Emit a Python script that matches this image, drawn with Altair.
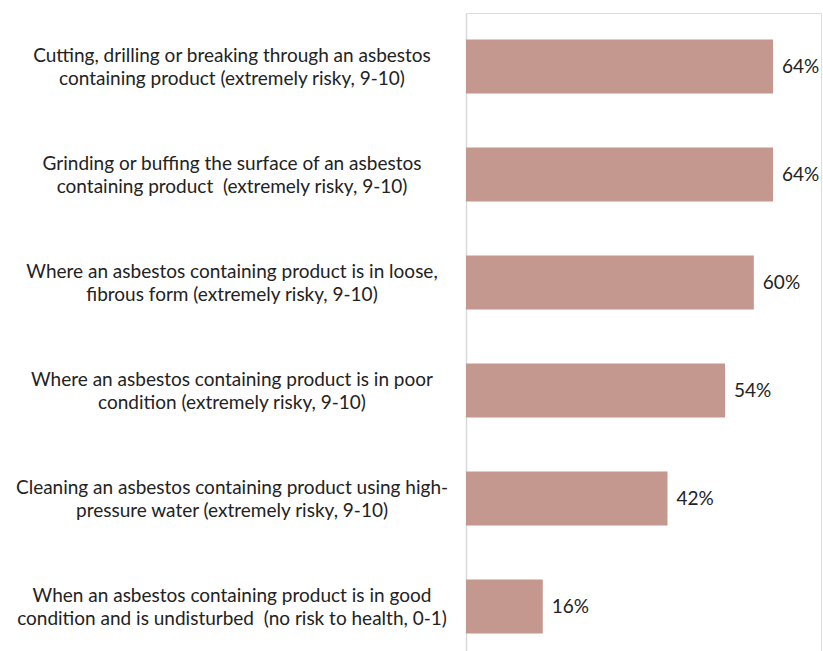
import altair as alt
import pandas as pd

categories = [
    "Cutting, drilling or breaking through an asbestos\ncontaining product (extremely risky, 9-10)",
    "Grinding or buffing the surface of an asbestos\ncontaining product \u00a0(extremely risky, 9-10)",
    "Where an asbestos containing product is in loose,\nfibrous form (extremely risky, 9-10)",
    "Where an asbestos containing product is in poor\ncondition (extremely risky, 9-10)",
    "Cleaning an asbestos containing product using high-\npressure water (extremely risky, 9-10)",
    "When an asbestos containing product is in good\ncondition and is undisturbed \u00a0(no risk to health, 0-1)",
]
values = [0.64, 0.64, 0.60, 0.54, 0.42, 0.16]
order = list(range(len(categories)))

df = pd.DataFrame({"cat": categories, "value": values, "order": order})

y_enc = alt.Y(
    "order:O",
    sort=None,
    scale=alt.Scale(paddingInner=0.5, paddingOuter=0.2037, align=0.6),
    axis=alt.Axis(labels=False, ticks=False, title=None, domainColor="#d9d9d9", domainWidth=1.5, grid=False),
)
x_enc = alt.X(
    "value:Q",
    scale=alt.Scale(domain=[0, 0.74], nice=False, zero=True),
    axis=None,
)

bars = alt.Chart(df).mark_bar(color="#C4978F").encode(x=x_enc, y=y_enc)

vals = alt.Chart(df).mark_text(
    align="left", baseline="middle", dx=9, dy=1, font="Lato", fontSize=19, color="#222222"
).encode(x=x_enc, y=y_enc, text=alt.Text("value:Q", format=".0%"))

cats = alt.Chart(df).mark_text(
    align="center", baseline="middle", lineBreak="\n", lineHeight=23.5, dy=-10.5,
    font="Lato", fontSize=19, color="#222222"
).encode(x=alt.value(-234), y=y_enc, text="cat:N")

chart = alt.layer(bars, vals, cats).properties(
    width=355,
    height=638,
    autosize=alt.AutoSizeParams(type="none"),
    padding={"left": 466, "top": 13, "right": 2, "bottom": 0},
).configure_view(stroke=None).configure(background="white")

chart.save("out.html", embed_options={"renderer": "svg", "actions": False})
